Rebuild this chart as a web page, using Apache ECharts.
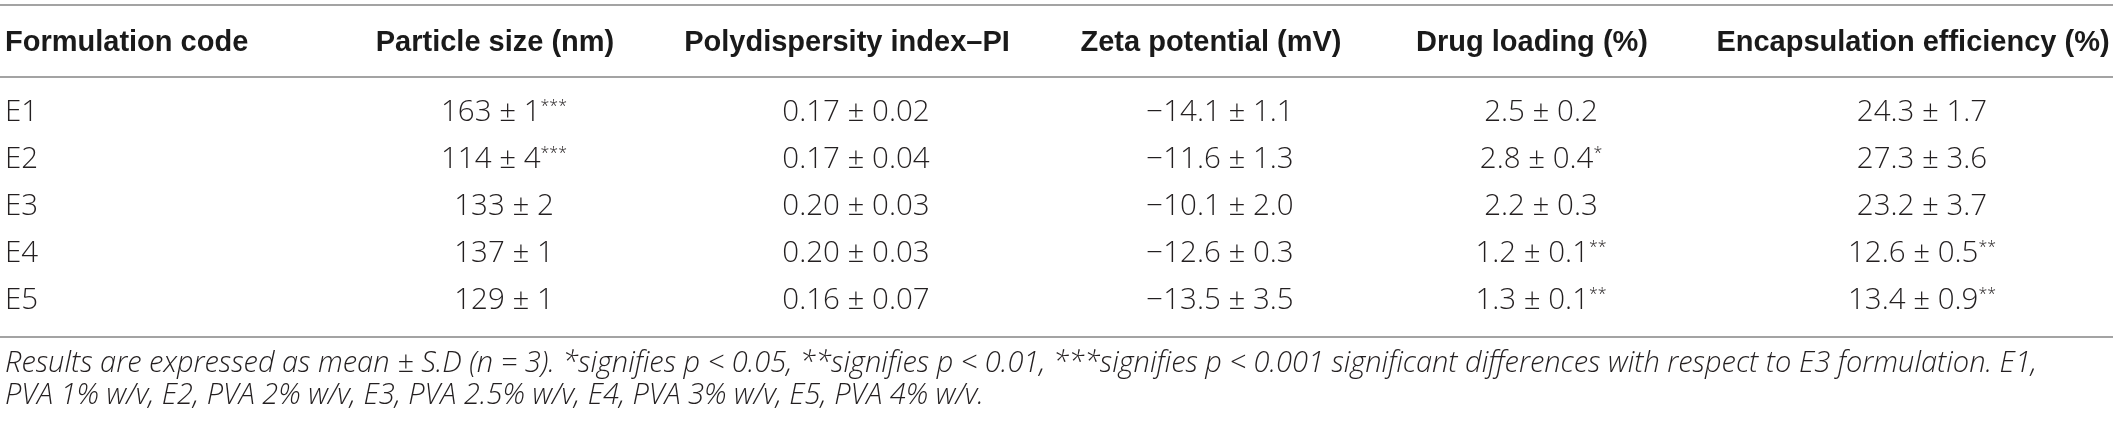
<!DOCTYPE html>
<html>
<head>
<meta charset="utf-8">
<script src="https://cdn.jsdelivr.net/npm/echarts@6/dist/echarts.min.js"></script>
<style>
  html, body { margin: 0; padding: 0; background: #fff; }
  #chart { width: 2120px; height: 421px; }
</style>
</head>
<body>
<div id="chart"></div>
<script>
// table values
const headers = ['Formulation code', 'Particle size (nm)', 'Polydispersity index–PI',
  'Zeta potential (mV)', 'Drug loading (%)', 'Encapsulation efficiency (%)'];
const codes = ['E1', 'E2', 'E3', 'E4', 'E5'];
const sizeMean = [163, 114, 133, 137, 129];
const sizeSd = [1, 4, 2, 1, 1];
const sizeSig = ['***', '***', '', '', ''];
const pdiMean = [0.17, 0.17, 0.20, 0.20, 0.16];
const pdiSd = [0.02, 0.04, 0.03, 0.03, 0.07];
const zetaMean = [-14.1, -11.6, -10.1, -12.6, -13.5];
const zetaSd = [1.1, 1.3, 2.0, 0.3, 3.5];
const loadMean = [2.5, 2.8, 2.2, 1.2, 1.3];
const loadSd = [0.2, 0.4, 0.3, 0.1, 0.1];
const loadSig = ['', '*', '', '**', '**'];
const effMean = [24.3, 27.3, 23.2, 12.6, 13.4];
const effSd = [1.7, 3.6, 3.7, 0.5, 0.9];
const effSig = ['', '', '', '**', '**'];
const notes = [
  'Results are expressed as mean ± S.D (n = 3). *signifies p < 0.05, **signifies p < 0.01, ***signifies p < 0.001 significant differences with respect to E3 formulation. E1,',
  'PVA 1% w/v, E2, PVA 2% w/v, E3, PVA 2.5% w/v, E4, PVA 3% w/v, E5, PVA 4% w/v.'
];

// page layout (pixel space of the hidden axes)
const layout = {
  colX: [5, 495, 847, 1211, 1532, 1913],
  dataShift: 9,
  headerY: 43,
  rowY0: 113,
  rowStep: 47,
  rules: [5, 77, 337],
  ruleEnd: 2113,
  noteY: [364, 396]
};

const TEXT = '#231f20';
const headFont = 'bold 29px "Liberation Sans", Arial, sans-serif';
const bodyFont = '300 29.5px "Open Sans", Roboto, sans-serif';
const noteFont = 'italic 300 29px "Open Sans", Roboto, sans-serif';

const fmt = (v, d) => (v < 0 ? '−' : '') + Math.abs(v).toFixed(d);
const cell = (m, s, d, sig) => '{v|' + fmt(m, d) + ' ± ' + fmt(s, d) + '}' + (sig ? '{s|' + sig + '}' : '');

function bodyData() {
  const out = [];
  codes.forEach((c, i) => {
    const row = [
      c,
      cell(sizeMean[i], sizeSd[i], 0, sizeSig[i]),
      cell(pdiMean[i], pdiSd[i], 2, ''),
      cell(zetaMean[i], zetaSd[i], 1, ''),
      cell(loadMean[i], loadSd[i], 1, loadSig[i]),
      cell(effMean[i], effSd[i], 1, effSig[i])
    ];
    row.forEach((t, j) => out.push({ value: [j, i], text: j === 0 ? '{v|' + t + '}' : t }));
  });
  return out;
}

const rich = {
  v: { font: bodyFont, fill: TEXT, color: TEXT },
  s: { font: '300 16px "Open Sans", Roboto, sans-serif', fill: TEXT, color: TEXT, verticalAlign: 'top' }
};

function ruleSeries() {
  return {
    type: 'custom',
    silent: true,
    data: layout.rules.map(y => [y]),
    renderItem: (params, api) => {
      const y = api.value(0);
      const a = api.coord([0, y]);
      const b = api.coord([layout.ruleEnd, y]);
      return { type: 'line', shape: { x1: a[0], y1: a[1], x2: b[0], y2: b[1] },
        style: { stroke: '#a3a3a3', lineWidth: 2 } };
    }
  };
}

function headerSeries() {
  return {
    type: 'custom',
    silent: true,
    data: headers.map((h, j) => ({ value: [j], name: h })),
    renderItem: (params, api) => {
      const j = api.value(0);
      const p = api.coord([layout.colX[j], layout.headerY]);
      return { type: 'text', x: p[0], y: p[1],
        style: { text: headers[j], font: headFont, fill: '#1a1a1a',
          align: j === 0 ? 'left' : 'center', verticalAlign: 'middle' } };
    }
  };
}

function bodySeries() {
  const data = bodyData();
  return {
    type: 'custom',
    silent: true,
    data: data,
    renderItem: (params, api) => {
      const j = api.value(0), i = api.value(1);
      const x = layout.colX[j] + (j === 0 ? 0 : layout.dataShift);
      const p = api.coord([x, layout.rowY0 + i * layout.rowStep]);
      return { type: 'text', x: p[0], y: p[1],
        style: { text: data[params.dataIndex].text, rich: rich, fill: TEXT,
          align: j === 0 ? 'left' : 'center', verticalAlign: 'middle' } };
    }
  };
}

function noteSeries() {
  return {
    type: 'custom',
    silent: true,
    data: notes.map((n, k) => [k]),
    renderItem: (params, api) => {
      const k = api.value(0);
      const p = api.coord([layout.colX[0], layout.noteY[k]]);
      return { type: 'text', x: p[0], y: p[1],
        style: { text: notes[k], font: noteFont, fill: TEXT, align: 'left', verticalAlign: 'middle' } };
    }
  };
}

const chart = echarts.init(document.getElementById('chart'), null, { renderer: 'canvas' });
chart.setOption({
  animation: false,
  backgroundColor: '#fff',
  grid: { left: 0, right: 0, top: 0, bottom: 0 },
  xAxis: { type: 'value', min: 0, max: 2120, show: false },
  yAxis: { type: 'value', min: 0, max: 421, inverse: true, show: false },
  series: [ruleSeries(), headerSeries(), bodySeries(), noteSeries()]
});
</script>
</body>
</html>
